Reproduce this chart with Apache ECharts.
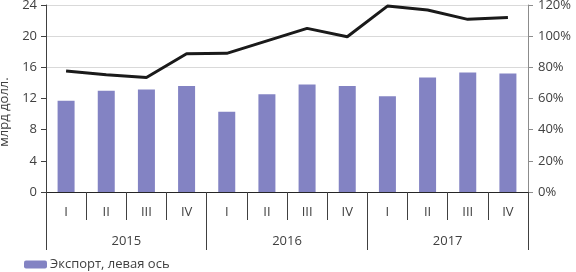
<!DOCTYPE html>
<html>
<head>
<meta charset="utf-8">
<script src="https://cdn.jsdelivr.net/npm/echarts@6/dist/echarts.min.js"></script>
<style>html,body{margin:0;padding:0;background:#fff}#c{width:576px;height:272px}</style>
</head>
<body>
<div id="c"></div>
<script>
const quarters = ['I','II','III','IV','I','II','III','IV','I','II','III','IV'];
const years = ['2015','2016','2017'];
const exportValues = [11.7, 13.0, 13.15, 13.6, 10.3, 12.55, 13.8, 13.6, 12.3, 14.7, 15.35, 15.2];
const ratioValues = [77.6, 75.3, 73.5, 88.7, 89.0, 97.0, 105.0, 99.6, 119.3, 116.8, 110.8, 112.0];
const leftTicks = [0, 4, 8, 12, 16, 20, 24];
const rightTicks = [0, 20, 40, 60, 80, 100, 120];
const leftAxisTitle = 'млрд долл.';

const FONT = 'Open Sans';
const TXT = '#404040';
const chart = echarts.init(document.getElementById('c'), null, {renderer: 'canvas'});
chart.setOption({
  animation: false,
  textStyle: {fontFamily: FONT},
  grid: {left: 46, right: 48, top: 5, bottom: 80, containLabel: false, outerBoundsMode: 'none'},
  graphic: [{
    type: 'text', x: 4, y: 112, rotation: Math.PI / 2,
    style: {text: leftAxisTitle, fill: TXT, font: '13px "Open Sans"', align: 'center', verticalAlign: 'middle'}
  }],
  legend: {
    left: 19, bottom: -4, itemWidth: 23, itemHeight: 8, itemGap: 10,
    data: ['Экспорт, левая ось'],
    textStyle: {fontFamily: FONT, fontSize: 13, color: TXT, padding: [0,0,0,-2]}
  },
  xAxis: [
    {
      type: 'category', data: quarters, position: 'bottom',
      axisLine: {lineStyle: {color: '#262626', width: 1}},
      axisTick: {show: true, interval: 0, length: 28, lineStyle: {color: '#404040'}},
      axisLabel: {interval: 0, margin: 14, fontSize: 13, color: TXT, fontFamily: FONT}
    },
    {
      type: 'category', data: years, position: 'bottom', gridIndex: 0,
      axisLine: {show: false},
      axisTick: {show: true, interval: 0, length: 58, lineStyle: {color: '#404040'}},
      axisLabel: {interval: 0, margin: 43, fontSize: 13, color: TXT, fontFamily: FONT}
    }
  ],
  yAxis: [
    {
      type: 'value', min: leftTicks[0], max: leftTicks[leftTicks.length-1], interval: 4,
      axisLine: {show: true, lineStyle: {color: '#404040'}},
      axisTick: {show: true, length: 5, lineStyle: {color: '#404040'}},
      axisLabel: {fontSize: 13, color: TXT, margin: 9, fontFamily: FONT},
      splitLine: {show: true, lineStyle: {color: ['rgba(0,0,0,0)','rgba(0,0,0,0)','rgba(0,0,0,0)','rgba(0,0,0,0)','#d9d9d9','#d9d9d9','#d9d9d9']}}
    },
    {
      type: 'value', min: rightTicks[0], max: rightTicks[rightTicks.length-1], interval: 20,
      position: 'right',
      axisLine: {show: true, lineStyle: {color: '#8c8c8c'}},
      axisTick: {show: true, length: 5, lineStyle: {color: '#8c8c8c'}},
      axisLabel: {fontSize: 13, color: TXT, margin: 10, formatter: '{value}%', fontFamily: FONT},
      splitLine: {show: false}
    }
  ],
  series: [
    {
      name: 'Экспорт, левая ось', type: 'bar', xAxisIndex: 0, yAxisIndex: 0,
      data: exportValues, barWidth: 17,
      itemStyle: {color: '#8383c3'}
    },
    {
      name: 'Отношение', type: 'line', xAxisIndex: 0, yAxisIndex: 1,
      data: ratioValues, symbol: 'none',
      lineStyle: {color: '#1a1a1a', width: 3}
    }
  ]
});
</script>
</body>
</html>
